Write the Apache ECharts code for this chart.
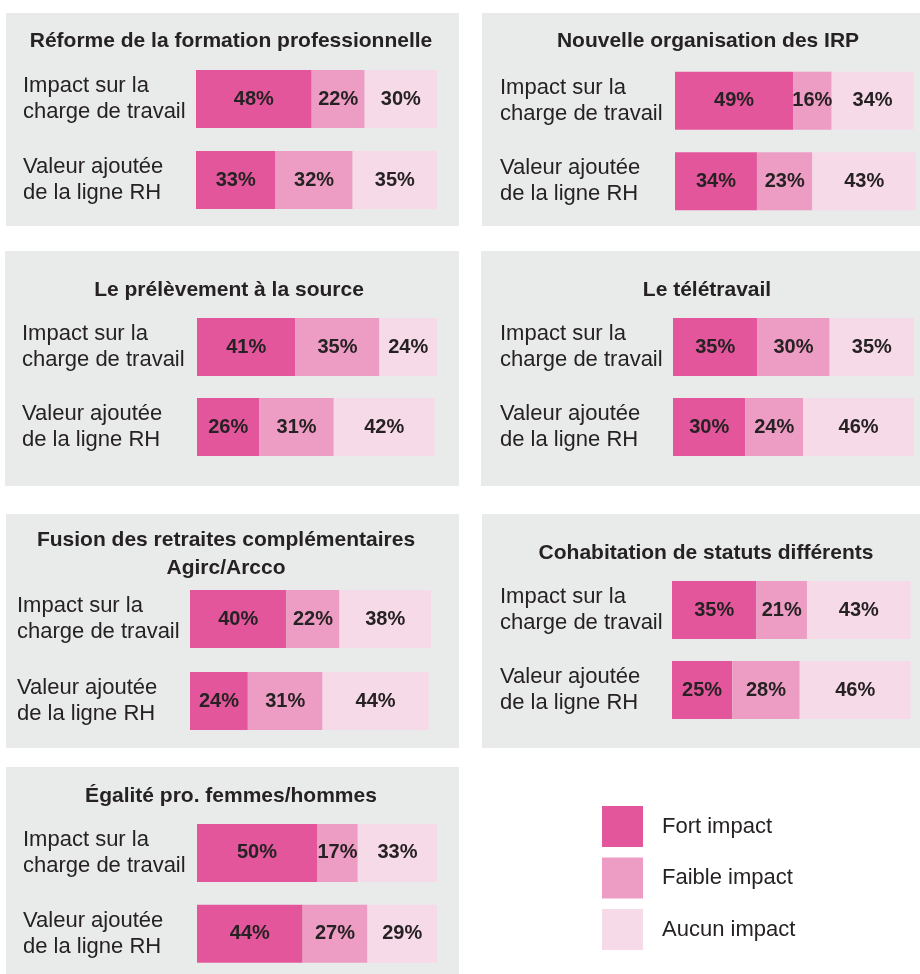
<!DOCTYPE html>
<html>
<head>
<meta charset="utf-8">
<script src="https://cdn.jsdelivr.net/npm/echarts@6/dist/echarts.min.js"></script>
<style>
html,body{margin:0;padding:0;background:#fff;}
#chart{width:920px;height:974px;}
</style>
</head>
<body>
<div id="chart"></div>
<script>
// ---- data ----
var categories = ['Impact sur la\ncharge de travail', 'Valeur ajoutée\nde la ligne RH'];
var panelTitles = [
  'Réforme de la formation professionnelle',
  'Nouvelle organisation des IRP',
  'Le prélèvement à la source',
  'Le télétravail',
  'Fusion des retraites complémentaires\nAgirc/Arcco',
  'Cohabitation de statuts différents',
  'Égalité pro. femmes/hommes'
];
var seriesNames = ['Fort impact', 'Faible impact', 'Aucun impact'];
var fortImpact   = [[48, 33], [49, 34], [41, 26], [35, 30], [40, 24], [35, 25], [50, 44]];
var faibleImpact = [[22, 32], [16, 23], [35, 31], [30, 24], [22, 31], [21, 28], [17, 27]];
var aucunImpact  = [[30, 35], [34, 43], [24, 42], [35, 46], [38, 44], [43, 46], [33, 29]];

// ---- layout (positions / styles) ----
var colors = ['#e3569b', '#ed9cc3', '#f6dae8'];
var FONT = '"Liberation Sans", Arial, Helvetica, sans-serif';
var TXT = '#262223';
var panels = [
  {bg:[6,13,453,213],   titleX:231, titleY:41,  grid:{left:196, top:58.5, width:241, height:162}, labelX:23},
  {bg:[482,13,438,213], titleX:708, titleY:41,  grid:{left:675, top:60.5, width:241, height:161}, labelX:500},
  {bg:[5,251,454,235],  titleX:229, titleY:290, grid:{left:197, top:307,  width:240, height:160}, labelX:22},
  {bg:[481,251,439,235],titleX:707, titleY:290, grid:{left:673, top:307,  width:241, height:160}, labelX:500},
  {bg:[6,514,453,234],  titleX:226, titleY:554, grid:{left:190, top:578,  width:241, height:164}, labelX:17},
  {bg:[482,514,438,234],titleX:706, titleY:553, grid:{left:672, top:570,  width:241, height:160}, labelX:500},
  {bg:[6,767,453,207],  titleX:231, titleY:796, grid:{left:197, top:812.5,width:240, height:162}, labelX:23}
];

var dataSets = [fortImpact, faibleImpact, aucunImpact];
var graphics = [], titles = [], grids = [], xAxes = [], yAxes = [], series = [];

panels.forEach(function (p, i) {
  graphics.push({type:'rect', z:0, silent:true,
    shape:{x:p.bg[0], y:p.bg[1], width:p.bg[2], height:p.bg[3]},
    style:{fill:'#e9eaea'}});
  var lines = panelTitles[i].split('\n').length;
  titles.push({text:panelTitles[i], left:p.titleX, textAlign:'center',
    top:p.titleY - 14*lines, padding:0,
    textStyle:{fontFamily:FONT, fontSize:21, fontWeight:'bold', color:TXT, lineHeight:28}});
  grids.push({left:p.grid.left, top:p.grid.top, width:p.grid.width, height:p.grid.height});
  xAxes.push({type:'value', gridIndex:i, min:0, max:100, show:false});
  yAxes.push({type:'category', gridIndex:i, inverse:true, data:categories,
    axisLine:{show:false}, axisTick:{show:false}, splitLine:{show:false},
    axisLabel:{align:'left', margin:p.grid.left - p.labelX, fontFamily:FONT,
      fontSize:22, lineHeight:26, color:TXT, padding:[0,0,14,0]}});
  for (var s = 0; s < 3; s++) {
    series.push({type:'bar', name:seriesNames[s], xAxisIndex:i, yAxisIndex:i,
      stack:'p' + i, barWidth:58, data:dataSets[s][i],
      itemStyle:{color:colors[s]}, silent:true,
      label:{show:true, position:'inside', formatter:'{c}%', fontFamily:FONT,
        fontSize:20, fontWeight:'bold', color:TXT}});
  }
});

var chart = echarts.init(document.getElementById('chart'), null, {renderer:'canvas'});
chart.setOption({
  animation:false,
  backgroundColor:'#ffffff',
  color:colors,
  graphic:graphics,
  title:titles,
  grid:grids,
  xAxis:xAxes,
  yAxis:yAxes,
  legend:{data:seriesNames, orient:'vertical', left:602, top:806, padding:0,
    itemWidth:41, itemHeight:41, itemGap:10.5, icon:'rect', selectedMode:false,
    textStyle:{fontFamily:FONT, fontSize:22, color:TXT, padding:[3,0,0,14]}},
  series:series
});
</script>
</body>
</html>
